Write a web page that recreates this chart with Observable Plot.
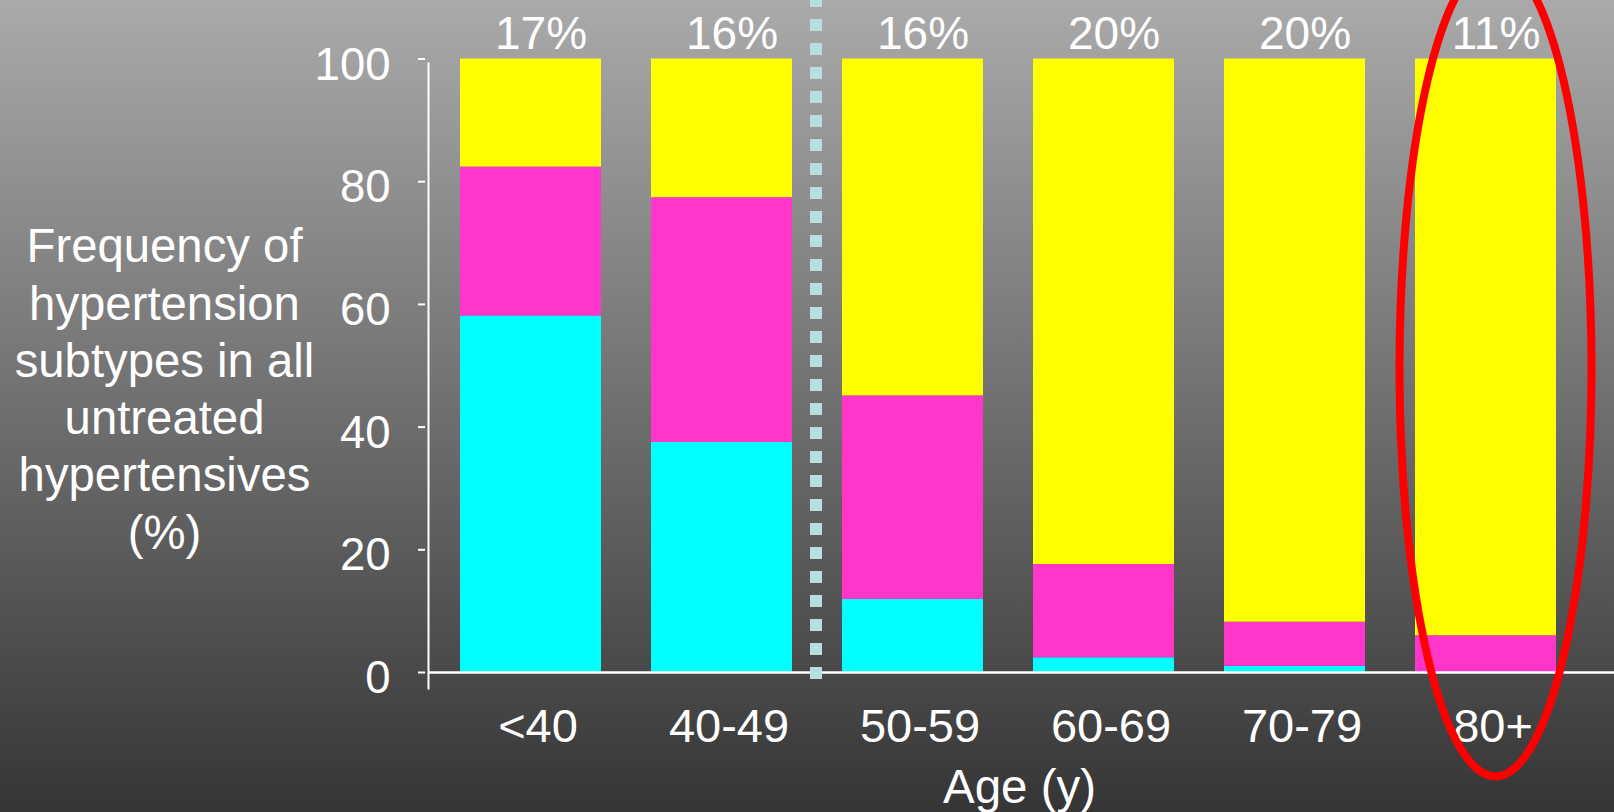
<!DOCTYPE html>
<html>
<head>
<meta charset="utf-8">
<script src="https://cdn.jsdelivr.net/npm/d3@7"></script>
<script src="https://cdn.jsdelivr.net/npm/@observablehq/plot@0.6"></script>
<style>
  html, body { margin: 0; padding: 0; background: #353535; }
  #chart svg { display: block; }
</style>
</head>
<body>
<div id="chart"></div>
<script>
// Age groups and the share of each hypertension subtype (%), stacked bottom to top
const ages = ["<40", "40-49", "50-59", "60-69", "70-79", "80+"];
const idh = [58.1, 37.5, 11.9, 2.4, 1.0, 0.0];   // isolated diastolic (cyan)
const sdh = [24.3, 39.9, 33.2, 15.2, 7.2, 6.0];  // systolic-diastolic (magenta)
const ish = [17.6, 22.6, 54.9, 82.4, 91.8, 94.0]; // isolated systolic (yellow)
// Share of all untreated hypertensives falling in each age group
const groupShare = ["17%", "16%", "16%", "20%", "20%", "11%"];
const yTicks = [0, 20, 40, 60, 80, 100];

const subtypes = ["IDH", "SDH", "ISH"];
const subtypeColors = ["#00ffff", "#ff36c9", "#ffff00"];

const rows = [];
ages.forEach((age, i) => {
  rows.push({age, subtype: "IDH", value: idh[i]});
  rows.push({age, subtype: "SDH", value: sdh[i]});
  rows.push({age, subtype: "ISH", value: ish[i]});
});

const font = "'Liberation Sans', Arial, Helvetica, sans-serif";

// Dotted divider between the under-50 and 50+ groups, and the ring around the oldest group
function annotations(index, scales) {
  const {x, y} = scales;
  const bw = x.bandwidth();
  const g = d3.create("svg:g");
  const xDiv = (x(ages[1]) + bw + x(ages[2])) / 2 - 1;
  g.append("line")
    .attr("x1", xDiv).attr("x2", xDiv)
    .attr("y1", -5).attr("y2", y(0) + 7)
    .attr("stroke", "#b5dfe3")
    .attr("stroke-width", 12)
    .attr("stroke-dasharray", "12 12");
  const cx = x(ages[5]) + bw / 2 + 10;
  g.append("ellipse")
    .attr("cx", cx).attr("cy", y(49.5))
    .attr("rx", 96).attr("ry", 408)
    .attr("fill", "none")
    .attr("stroke", "#ff0000")
    .attr("stroke-width", 8);
  return g.node();
}

const chart = Plot.plot({
  width: 1614,
  height: 812,
  marginLeft: 428,
  marginRight: 0,
  marginTop: 63,
  marginBottom: 124,
  style: {
    background: "linear-gradient(#aaaaaa, #353535)",
    color: "white",
    fontFamily: font,
    overflow: "hidden"
  },
  x: {domain: ages, range: [409, 1608], padding: 0.26},
  y: {domain: [0, 100], range: [672, 58.5]},
  color: {domain: subtypes, range: subtypeColors},
  marks: [
    Plot.barY(rows, {x: "age", y: "value", fill: "subtype"}),
    // axis lines
    Plot.frame({anchor: "left", stroke: "white", strokeWidth: 2}),
    Plot.ruleY([0], {stroke: "white", strokeWidth: 2.5}),
    // y ticks and labels
    Plot.axisY({ticks: yTicks, tickSize: 7, dx: -3, strokeWidth: 2, tickFormat: () => "", label: null}),
    Plot.axisY({ticks: yTicks, tickSize: 0, tickPadding: 38, dy: 6, fontSize: 45.5, label: null}),
    // x labels
    Plot.axisX({tickSize: 0, tickPadding: 20, dx: 7, fontSize: 47, label: null}),
    Plot.text(["Age (y)"], {frameAnchor: "bottom", lineAnchor: "bottom", dy: 802 - 688, dx: -2, fontSize: 47.5, fill: "white"}),
    // y title
    Plot.text(["Frequency of\nhypertension\nsubtypes in all\nuntreated\nhypertensives\n(%)"], {
      frameAnchor: "top-left", textAnchor: "middle", lineAnchor: "bottom",
      lineHeight: 1.21, dx: 164 - 428, dy: 548 - 63, fontSize: 47.3, fill: "white"
    }),
    // group shares above the bars
    Plot.text(ages, {x: d => d, y: () => 100, text: (d, i) => groupShare[i], lineAnchor: "bottom", dx: 10, dy: -10.5, fontSize: 46, fill: "white"}),
    annotations
  ]
});

document.getElementById("chart").appendChild(chart);
</script>
</body>
</html>
